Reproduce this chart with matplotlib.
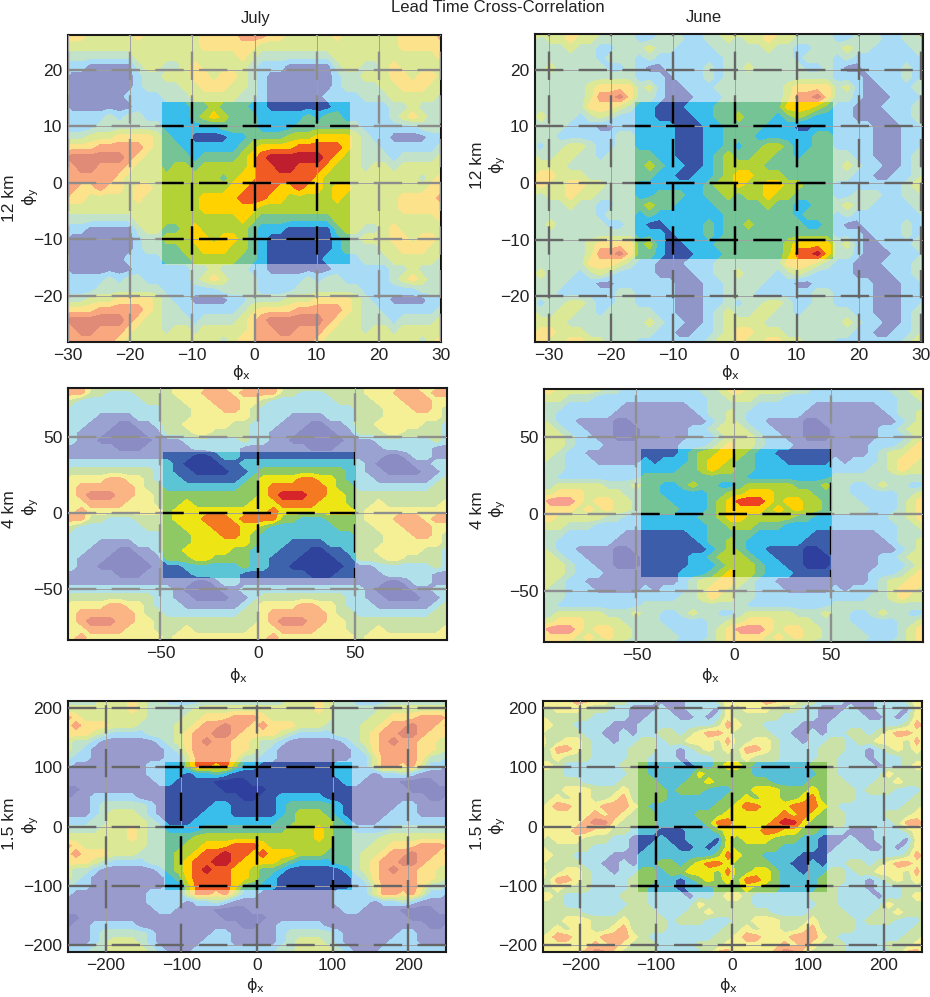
# Lead time cross-correlation, July / June at three heights
import numpy as np
import matplotlib
matplotlib.use('Agg')
import matplotlib.pyplot as plt
from matplotlib.patches import Rectangle

plt.rcParams['font.family'] = ['Liberation Sans', 'DejaVu Sans']
plt.rcParams['mathtext.fontset'] = 'dejavusans'

# band index of the field over one period, top row first
# (july_12km has one more column, its period is a bit wider than the box)
july_12km = [
    [1,1,1,2,2,3,2,2,2,1,1,0,0,0,0,0,0,0,1,1,1],
    [1,1,1,2,3,4,3,2,2,2,1,1,1,1,1,2,1,2,2,1,1],
    [1,1,1,1,1,1,2,2,2,2,1,1,1,1,2,2,2,2,2,2,2],
    [2,1,1,0,0,0,0,1,1,2,2,2,2,3,3,3,4,4,4,4,3],
    [2,2,1,1,1,1,1,1,2,3,4,4,4,4,5,5,5,5,5,4,3],
    [2,2,2,1,2,2,2,2,3,4,5,6,6,6,6,6,6,5,4,3,3],
    [2,3,3,2,3,3,3,3,3,4,5,5,6,6,5,5,5,4,3,3,3],
    [3,3,3,3,3,3,2,3,4,4,5,5,5,5,5,5,4,3,3,3,3],
    [3,3,3,3,3,3,3,4,4,5,5,5,4,4,5,4,4,3,4,4,3],
    [3,3,3,3,4,4,4,4,5,5,5,4,4,3,3,3,3,3,4,3,3],
    [3,3,3,3,4,4,4,4,4,4,3,3,3,3,3,3,3,3,3,3,3],
    [3,3,3,3,3,3,3,3,4,3,2,2,2,2,2,2,2,2,3,3,3],
    [2,2,3,4,3,3,3,3,3,2,1,1,1,0,0,0,0,0,2,3,3],
    [3,3,3,4,4,3,4,4,3,2,1,0,0,0,0,0,0,0,1,2,2],
    [2,2,3,3,4,4,4,3,3,2,1,0,0,0,0,0,0,0,1,2,2],
    [2,2,2,3,3,3,3,3,2,2,1,0,0,0,0,0,0,1,1,1,1],
]
june_12km = [
    [1,1,0,0,0,1,1,1,2,2,2,2,2,2,2,4,4,4,3,2],
    [1,1,0,0,0,0,1,1,2,2,3,2,2,2,1,2,3,2,1,1],
    [1,1,1,1,0,0,0,1,1,2,2,2,2,1,1,1,0,0,1,1],
    [1,1,1,1,0,0,0,1,1,2,2,2,1,1,1,1,1,1,2,2],
    [1,1,1,1,0,0,0,1,1,2,1,2,2,3,3,2,1,1,2,2],
    [2,2,1,1,0,0,0,1,2,3,2,2,3,3,2,2,1,2,2,2],
    [2,3,2,1,1,0,0,1,2,3,3,3,3,2,2,2,2,2,2,2],
    [2,2,1,1,0,0,1,1,2,3,4,4,3,3,3,2,2,2,2,2],
    [1,1,1,1,1,1,1,2,3,3,4,3,3,4,4,3,3,2,2,2],
    [1,1,2,2,2,1,1,2,2,3,2,3,3,4,3,3,2,2,2,2],
    [2,3,2,2,1,1,1,1,2,2,2,2,2,3,2,2,1,1,2,2],
    [1,2,1,1,1,1,1,1,1,2,2,2,2,2,2,2,1,2,2,2],
    [1,0,0,1,1,1,1,2,1,2,2,3,2,2,2,2,2,1,1,2],
    [1,1,1,0,1,1,1,2,1,2,2,2,2,2,2,2,2,2,2,2],
    [2,3,1,0,0,1,1,1,2,2,2,2,2,2,2,3,4,4,4,4],
    [2,2,1,0,0,0,1,1,1,2,2,2,2,2,2,3,5,5,6,4],
]
july_4km = [
    [1,1,1,0,0,1,2,2,1,1,1,1,1,1,1,1,1,1,1,1],
    [2,1,0,0,0,0,1,1,2,2,2,2,2,2,2,2,2,2,2,2],
    [2,1,1,0,0,0,0,1,1,2,3,3,3,3,3,3,3,3,3,2],
    [2,2,1,1,1,1,1,1,2,3,4,4,4,4,5,5,4,4,3,2],
    [2,2,2,2,2,2,2,2,3,3,4,5,5,5,5,5,5,4,3,3],
    [3,3,3,3,3,3,3,3,3,3,4,5,6,6,6,5,5,4,4,3],
    [3,3,4,3,3,3,3,3,3,4,4,4,5,5,5,5,4,4,4,3],
    [3,4,4,4,4,4,4,4,4,4,4,5,4,4,4,4,4,4,4,4],
    [3,4,4,4,5,5,5,4,5,5,5,5,3,3,2,2,2,3,3,3],
    [3,3,4,4,4,5,5,5,4,4,3,2,2,2,2,2,2,2,3,3],
    [3,3,3,4,4,4,5,5,4,3,2,2,2,2,2,2,2,2,2,2],
    [3,3,3,4,4,4,4,4,4,3,2,2,2,1,1,1,1,2,2,2],
    [3,3,4,4,4,4,4,3,3,2,2,2,1,1,1,0,0,1,1,2],
    [3,3,3,4,4,3,3,3,3,2,2,1,1,1,0,0,0,0,1,1],
    [1,1,2,2,2,2,2,2,3,2,2,1,1,0,0,0,0,0,0,1],
    [1,1,1,2,2,2,2,2,1,1,1,1,1,1,1,0,0,0,1,1],
]
june_4km = [
    [1,1,1,1,2,3,4,4,5,5,4,3,2,2,1,1,1,1,1,1],
    [2,1,2,2,2,3,4,5,5,4,3,3,2,2,2,1,1,1,1,1],
    [2,2,2,2,3,3,4,5,4,4,3,3,2,2,2,2,2,2,2,2],
    [3,3,3,3,3,3,3,3,3,3,3,2,2,2,2,2,2,2,2,2],
    [3,3,2,2,3,4,3,3,2,2,3,4,4,4,4,4,3,3,3,4],
    [3,3,2,2,2,2,2,3,3,4,4,5,5,5,4,4,4,4,3,3],
    [3,3,3,2,2,2,2,3,4,5,6,6,6,5,4,5,5,4,4,3],
    [3,3,3,3,2,2,2,3,4,5,5,5,5,4,5,4,5,4,4,3],
    [2,2,2,2,2,2,3,3,4,5,5,4,4,4,4,4,3,3,2,2],
    [2,2,2,2,2,2,2,3,3,4,4,4,3,3,3,2,2,2,2,2],
    [1,1,1,1,1,2,2,3,3,3,3,3,2,2,2,2,2,2,1,1],
    [1,1,1,1,1,1,2,3,3,4,3,2,2,2,2,2,2,1,1,1],
    [1,1,1,1,1,1,1,2,3,4,3,2,2,1,1,1,1,0,0,1],
    [1,1,1,1,1,2,2,3,4,4,4,3,2,2,1,1,1,0,0,0],
    [1,1,1,1,1,2,2,2,3,4,4,4,3,2,2,1,1,0,0,0],
    [1,1,1,1,2,2,2,3,4,5,4,4,3,2,2,2,1,1,1,1],
]
july_15km = [
    [2,2,4,6,6,5,6,4,2,2,1,1,1,1,1,1,1,1,2,2],
    [2,2,1,2,2,3,2,1,1,1,1,1,1,1,1,1,1,1,2,2],
    [2,1,1,1,1,0,0,0,0,1,1,1,1,1,1,1,1,1,1,2],
    [1,1,1,1,1,1,0,0,0,0,0,1,1,1,1,1,1,1,1,1],
    [1,1,1,1,1,1,1,1,0,0,1,1,2,2,2,2,2,1,1,1],
    [1,1,1,1,1,2,2,1,1,1,1,1,2,3,3,3,3,3,2,1],
    [1,1,1,1,2,2,2,1,1,1,1,1,2,3,4,4,4,3,2,1],
    [1,1,1,2,2,2,2,2,2,2,2,2,3,3,4,4,4,4,3,2],
    [2,2,2,2,3,3,3,3,3,3,3,3,3,4,4,4,5,4,3,3],
    [3,3,3,4,4,4,4,4,4,4,4,4,4,4,4,4,5,4,3,3],
    [3,3,4,4,5,5,5,6,6,6,5,4,4,4,4,4,4,4,3,3],
    [3,4,4,5,6,6,7,6,6,5,6,5,5,5,4,4,4,3,3,3],
    [3,4,5,6,6,7,7,6,5,5,5,5,4,3,2,2,2,2,3,3],
    [3,4,5,6,7,6,6,5,5,4,3,3,2,1,1,1,1,1,1,2],
    [2,3,5,6,6,6,6,5,5,4,3,2,1,1,1,1,1,1,1,1],
    [2,2,4,6,6,6,6,5,3,3,2,2,1,1,1,1,1,1,1,1],
]
june_15km = [
    [2,1,1,1,1,0,1,1,2,3,3,2,1,1,1,1,1,1,2,2],
    [2,1,1,1,1,1,3,2,2,2,2,2,1,1,1,1,1,1,1,2],
    [2,2,1,1,1,2,2,3,2,2,2,2,2,2,1,1,1,1,2,2],
    [2,2,2,1,2,2,2,1,1,1,2,2,3,3,3,2,2,2,3,2],
    [2,2,2,1,1,1,1,1,1,2,2,3,2,3,3,2,2,3,4,2],
    [2,1,1,1,1,1,1,1,2,2,3,4,4,3,3,3,4,4,4,3],
    [2,2,1,1,1,1,2,2,2,3,3,3,3,3,3,4,3,4,3,2],
    [2,2,1,1,1,1,1,2,4,4,3,3,3,3,4,5,5,3,2,2],
    [1,1,0,0,0,1,1,1,2,3,3,3,3,4,4,3,3,2,2,1],
    [0,0,1,0,0,1,1,1,0,3,2,3,3,3,2,2,2,1,1,0],
    [0,1,1,1,0,0,1,0,1,3,2,2,2,2,2,1,1,1,1,0],
    [1,1,1,1,1,1,1,1,2,4,3,2,2,1,1,1,1,0,0,0],
    [1,1,2,2,1,2,3,4,4,3,2,2,2,2,1,1,0,0,1,0],
    [2,2,1,2,2,3,3,3,2,4,2,2,3,3,2,1,1,0,1,1],
    [2,2,1,1,0,1,2,3,2,3,2,4,4,3,2,1,1,1,1,2],
    [2,1,1,1,0,1,1,1,2,2,2,3,2,2,2,1,1,1,1,2],
]

ticks_12_x = [-30, -20, -10, 0, 10, 20, 30]
ticks_12_y = [-20, -10, 0, 10, 20]
ticks_4 = [-50, 0, 50]
ticks_15 = [-200, -100, 0, 100, 200]

# saturated colours inside the box, pale ones for the repeats outside
sat_a = ['#3953a4', '#39bdea', '#74c496', '#b2d235', '#ffd200', '#f15a22', '#be1e2d']
pale_a = ['#9096c8', '#a8dbf5', '#c2e2c9', '#dbe896', '#fde28c', '#f9a77e', '#e08a78']
sat_b1 = ['#2f439c', '#3e63ad', '#5bc5d6', '#8fc964', '#eee614', '#f47920', '#d7232a']
pale_b1 = ['#8c8cc4', '#9aa2d2', '#b0e1ea', '#cae2a8', '#f5f095', '#fbb585', '#e8917e']
sat_b2 = ['#2e3f9e', '#3c5daa', '#39bdea', '#74c496', '#b2d235', '#ffd200', '#ee4023']
pale_b2 = ['#8b8ac2', '#9b9fd0', '#a8dbf5', '#bfe1c8', '#dbe896', '#fee28a', '#f8a090']
sat_c1 = ['#2e3f9e', '#3953a4', '#39bdea', '#6cc09a', '#b2d235', '#ffd200', '#f15a22', '#c4202a']
pale_c1 = ['#8c8cc4', '#9a9bcd', '#a8daf5', '#bfe2ca', '#dbe896', '#fde28c', '#f9a77e', '#e08a78']
sat_c2 = ['#3953a4', '#57bfd6', '#8dc763', '#eee614', '#f47920', '#d7232a']
pale_c2 = ['#9a9bcf', '#b0e1ea', '#cae2a8', '#f5f095', '#fbb585', '#e8917e']

W, H = 930., 997.
fig = plt.figure(figsize=(W / 100, H / 100), dpi=100)


def panel(field, sat, pale, px, xlim, ylim, box, xt, yt, dash, period=None):
    left, right, top, bottom = px
    ax = fig.add_axes([left / W, 1 - bottom / H, (right - left) / W, (bottom - top) / H])
    z = np.flipud(np.array(field, dtype=float))
    ny, nx = z.shape
    x0, x1, y0, y1 = box
    wx, wy = x1 - x0, y1 - y0
    if period is None:
        period = wx
    # the field repeats all round the box
    x = x0 - period + (np.arange(3 * nx) + 0.5) * period / nx
    y = y0 - wy + (np.arange(3 * ny) + 0.5) * wy / ny
    zz = np.tile(z, (3, 3))
    levels = np.arange(len(sat) + 1) - 0.5
    ax.contourf(x, y, zz, levels=levels, colors=pale, extend='both')
    rect = Rectangle((x0, y0), wx, wy, fill=False, lw=0, transform=ax.transData)
    ax.add_patch(rect)
    inner = ax.contourf(x, y, zz, levels=levels, colors=sat, extend='both')
    inner.set_clip_path(rect)

    dashes = (0, (12, 6.5))
    for v in xt:
        ax.axvline(v, color='#a0a0a0', lw=0.7, zorder=3)
        ax.axvline(v, color=dash, lw=1.7, ls=dashes, zorder=4)
        ln = ax.axvline(v, color='black', lw=1.7, ls=dashes, zorder=5)
        ln.set_clip_path(rect)
    for v in yt:
        ax.axhline(v, color='#a0a0a0', lw=0.7, zorder=3)
        ax.axhline(v, color=dash, lw=1.7, ls=dashes, zorder=4)
        ln = ax.axhline(v, color='black', lw=1.7, ls=dashes, zorder=5)
        ln.set_clip_path(rect)

    ax.set_xlim(xlim)
    ax.set_ylim(ylim)
    ax.set_xticks(xt)
    ax.set_yticks(yt)
    ax.tick_params(length=0, labelsize=12.5, pad=4, colors='#222222')
    for s in ax.spines.values():
        s.set_linewidth(1.5)
        s.set_color('#1a1a1a')
    return ax


def label(x, y, s, size=11.5, rot=0):
    fig.text(x / W, 1 - y / H, s, fontsize=size, rotation=rot,
             ha='center', va='center', color='#222222')


PHI_X = r'$\mathrm{\phi_x}$'
PHI_Y = r'$\mathrm{\phi_y}$'

panel(july_12km, sat_a, pale_a, (68, 441, 35, 342), (-30, 30), (-28.2, 26.2),
      (-14.9, 15.4, -14.4, 14.4), ticks_12_x, ticks_12_y, '#8c8c8c', period=32)
panel(june_12km, sat_a, pale_a, (535, 923, 34, 342), (-32.2, 30.4), (-28.1, 26.3),
      (-16.1, 15.8, -13.4, 14.3), ticks_12_x, ticks_12_y, '#666666')
panel(july_4km, sat_b1, pale_b1, (68, 447, 388, 640), (-97.4, 97), (-83.5, 82),
      (-48.7, 49.7, -42.8, 40), ticks_4, ticks_4, '#8f8f8f')
panel(june_4km, sat_b2, pale_b2, (544, 923, 389, 642), (-97.4, 97), (-83, 81),
      (-47.7, 49.7, -41, 42), ticks_4, ticks_4, '#8f8f8f')
panel(july_15km, sat_c1, pale_c1, (68, 446, 701, 952), (-250, 250), (-211, 212),
      (-122, 125, -106, 110), ticks_15, ticks_15, '#666666')
panel(june_15km, sat_c2, pale_c2, (543, 922, 701, 952), (-249, 250), (-211, 212),
      (-124, 125, -110, 110), ticks_15, ticks_15, '#666666')

label(498, 7, 'Lead Time Cross-Correlation', size=12)
label(256, 19, 'July', size=12)
label(704, 18, 'June', size=12)

label(10, 198, '12 km', size=12.5, rot=90)
label(31, 197, PHI_Y, rot=90)
label(477, 165, '12 km', size=12.5, rot=90)
label(498, 165, PHI_Y, rot=90)
label(10, 509, '4 km', size=12.5, rot=90)
label(31, 507, PHI_Y, rot=90)
label(477, 510, '4 km', size=12.5, rot=90)
label(498, 509, PHI_Y, rot=90)
label(10, 824, '1.5 km', size=12.5, rot=90)
label(31, 825, PHI_Y, rot=90)
label(477, 824, '1.5 km', size=12.5, rot=90)
label(498, 826, PHI_Y, rot=90)

label(241, 372, PHI_X)
label(730, 372, PHI_X)
label(238, 675, PHI_X)
label(710, 675, PHI_X)
label(255, 985, PHI_X)
label(728, 985, PHI_X)

fig.savefig('out.png', dpi=100)
